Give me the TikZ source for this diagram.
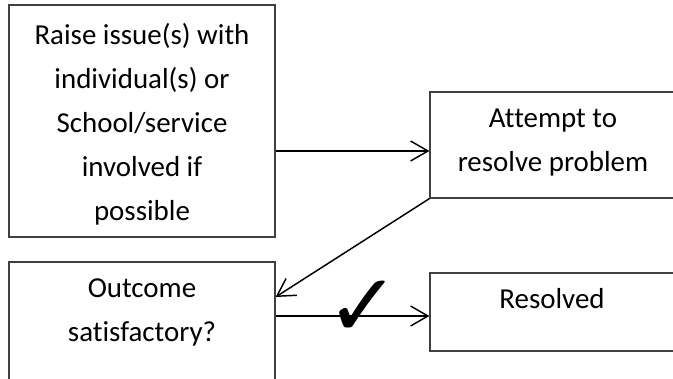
\documentclass[tikz,border=0pt]{standalone}
\usepackage{fontspec}
\setmainfont[Ligatures=NoCommon]{Carlito}
\newfontfamily\symfont{DejaVu Sans}
\usetikzlibrary{arrows.meta}
\begin{document}
\begin{tikzpicture}[x=0.75pt,y=-0.75pt,
  box/.style={draw=black!75,line width=0.9pt,rectangle,inner sep=0pt},
  txt/.style={align=center,font=\fontsize{21.7}{33}\selectfont,inner sep=0pt},
  arr/.style={draw=black,line width=1.1pt,-{Straight Barb[length=13pt,width=15pt,line width=1.1pt]}}]
\useasboundingbox (0,0) rectangle (673,378);
\clip (0,0) rectangle (673,378);
\node[box,minimum width=266*0.75pt,minimum height=232*0.75pt] (raise) at (142,121) {};
\node[txt] (raiset) at (142,124) {Raise issue(s) with\\individual(s) or\\School/service\\involved if\\possible};
\node[box,minimum width=246*0.75pt,minimum height=106*0.75pt] (attempt) at (553,145) {};
\node[txt] (attemptt) at (553,143) {Attempt to\\resolve problem};
\node[box,minimum width=266*0.75pt,minimum height=150*0.75pt] (outcome) at (142,337) {};
\node[txt] (outcomet) at (142,312) {Outcome\\satisfactory?};
\node[box,minimum width=246*0.75pt,minimum height=78*0.75pt] (resolved) at (553,312) {};
\node[txt] (resolvedt) at (552,299) {Resolved};
\draw[arr] (raise.east |- 0,151) -- (attempt.west |- 0,151);
\draw[arr] (attempt.south west) -- (outcome.east |- 0,297);
\draw[arr] (outcome.east |- 0,316) -- (resolved.west |- 0,316);
\node[inner sep=0pt,font=\symfont\fontsize{66}{66}\selectfont] (check) at (363,309) {✓};
\end{tikzpicture}
\end{document}
